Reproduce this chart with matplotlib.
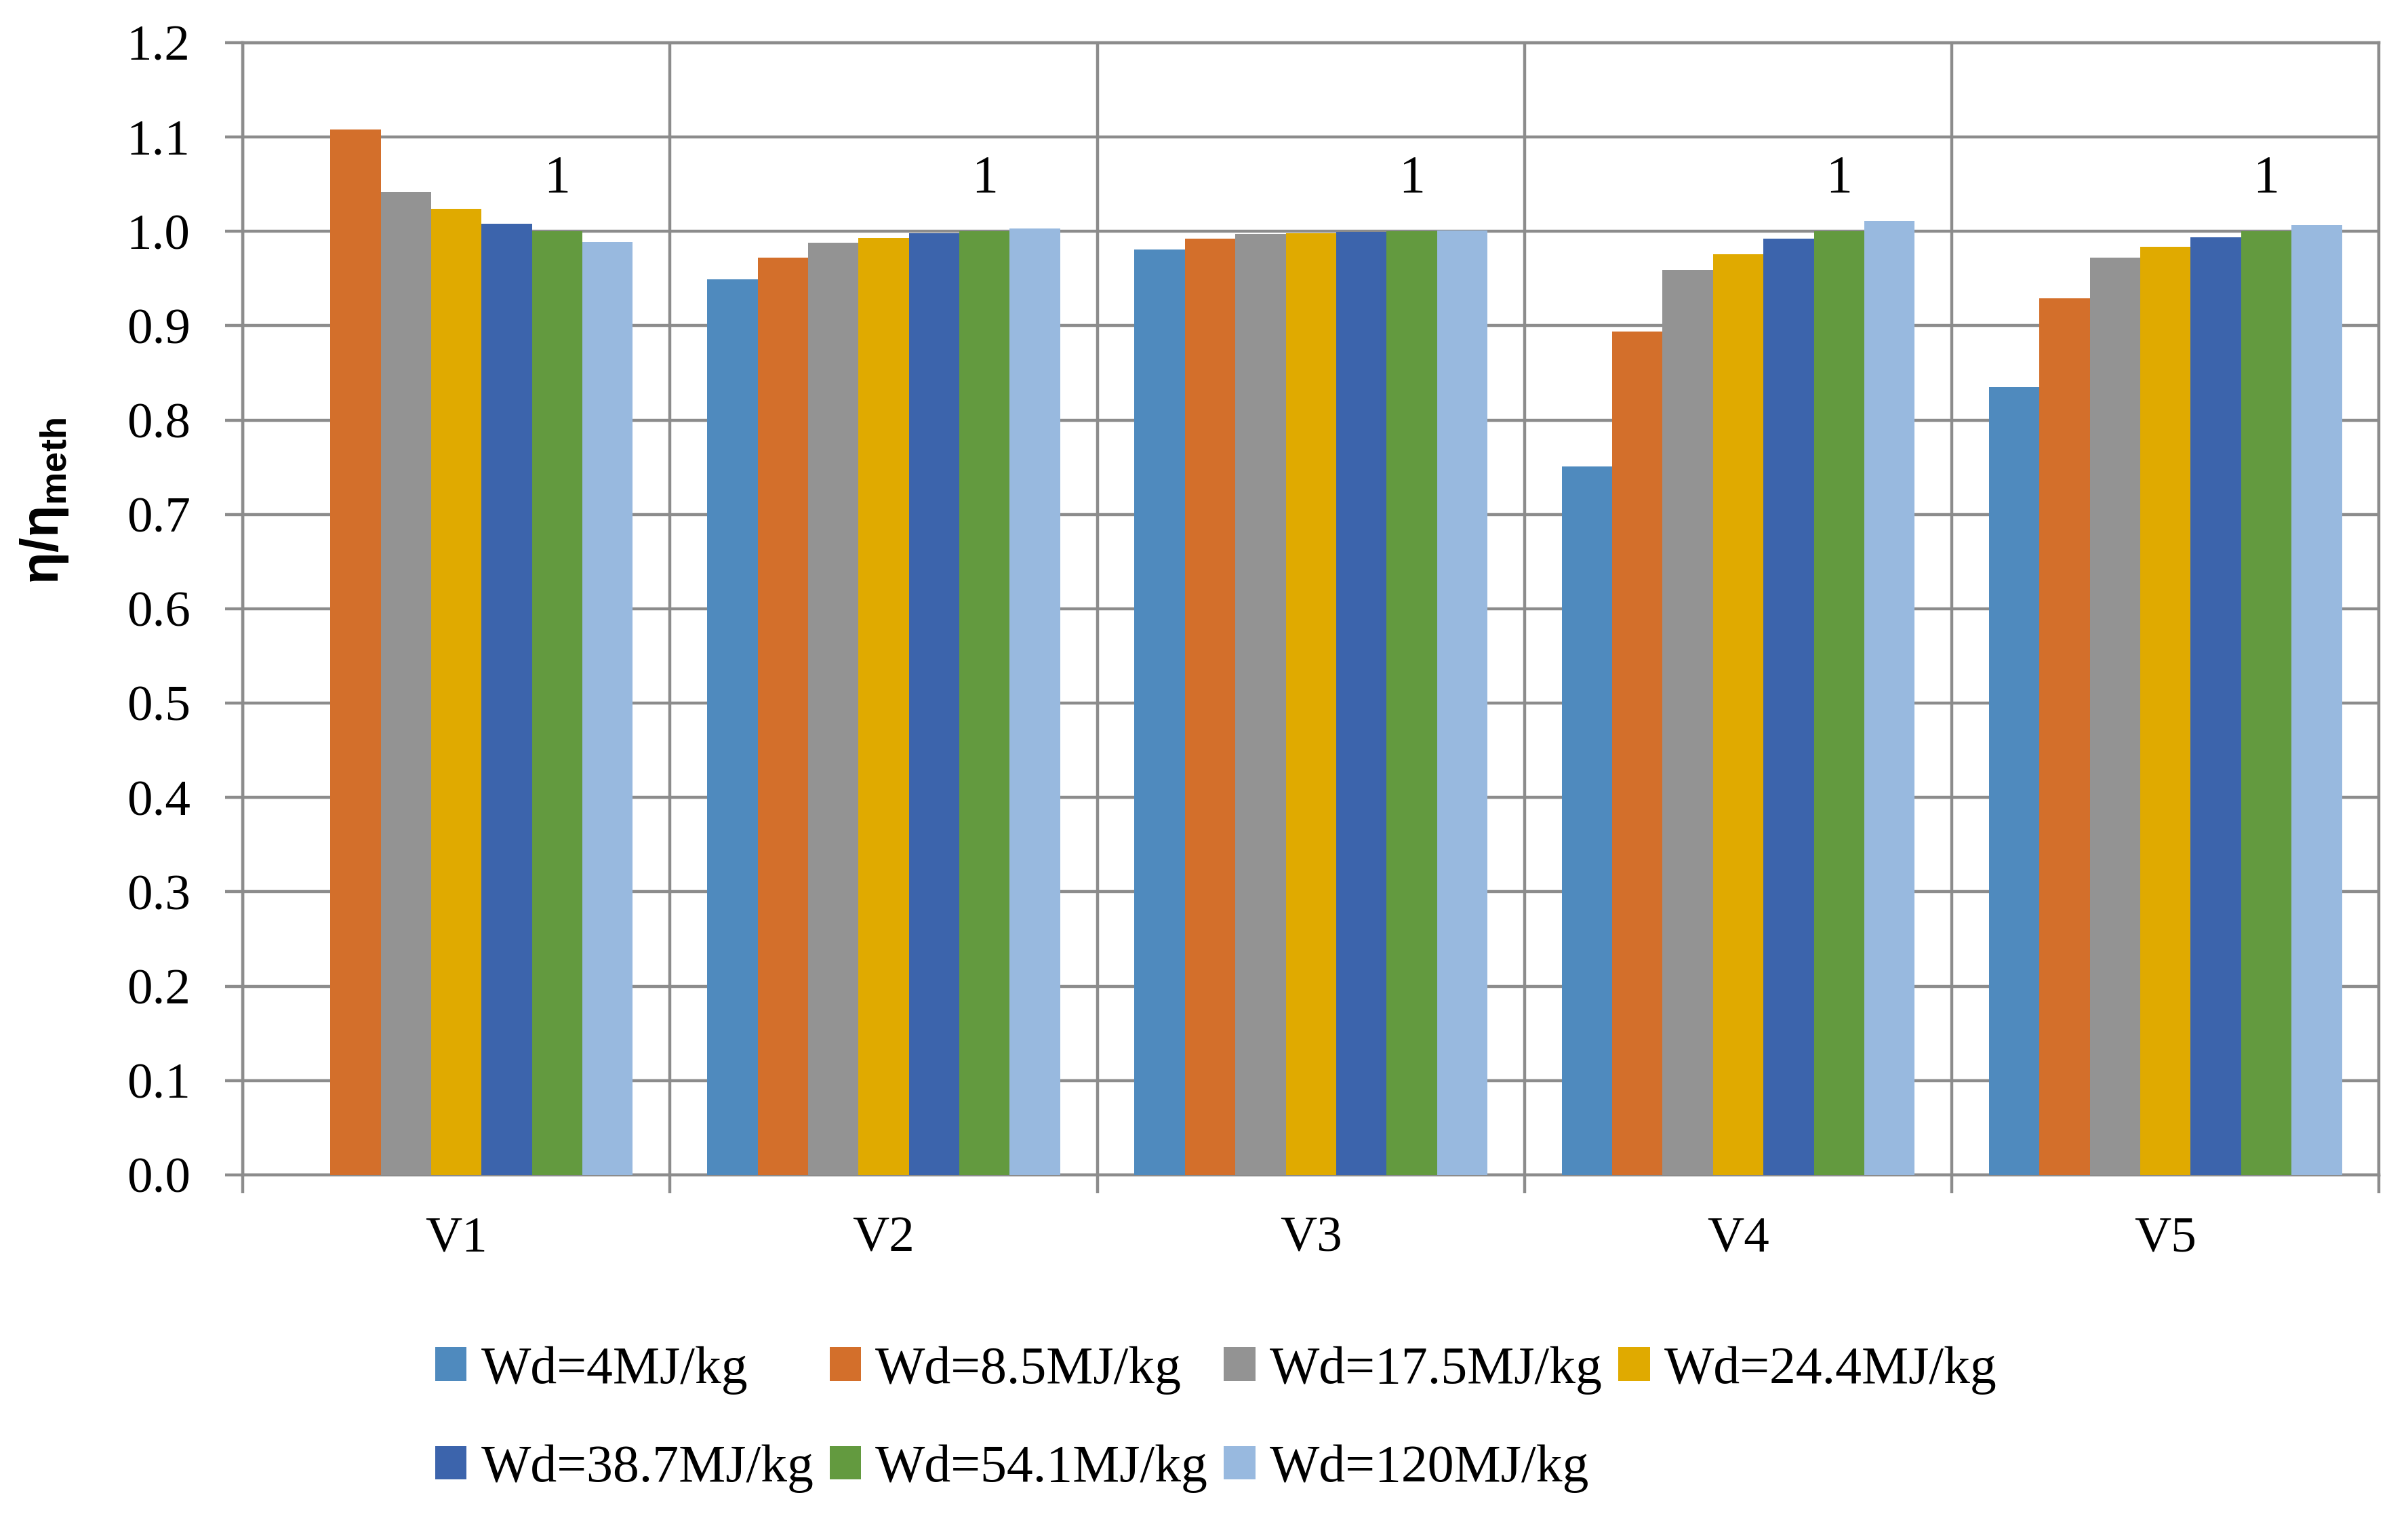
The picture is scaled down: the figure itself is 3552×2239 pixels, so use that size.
import numpy as np
import matplotlib
matplotlib.use("Agg")
import matplotlib.pyplot as plt
from matplotlib.patches import Patch

categories = ["V1", "V2", "V3", "V4", "V5"]
series_labels = ["Wd=4MJ/kg", "Wd=8.5MJ/kg", "Wd=17.5MJ/kg", "Wd=24.4MJ/kg",
                 "Wd=38.7MJ/kg", "Wd=54.1MJ/kg", "Wd=120MJ/kg"]
wd_4 = [np.nan, 0.949, 0.981, 0.751, 0.835]
wd_8_5 = [1.108, 0.972, 0.992, 0.894, 0.929]
wd_17_5 = [1.042, 0.988, 0.997, 0.959, 0.972]
wd_24_4 = [1.024, 0.993, 0.998, 0.976, 0.984]
wd_38_7 = [1.008, 0.998, 0.9993, 0.992, 0.994]
wd_54_1 = [1.000, 1.000, 1.000, 1.000, 1.000]
wd_120 = [0.989, 1.003, 1.001, 1.011, 1.007]
label_series_index = 5
label_text = "1"
yticks = [0.0, 0.1, 0.2, 0.3, 0.4, 0.5, 0.6, 0.7, 0.8, 0.9, 1.0, 1.1, 1.2]

series_values = [wd_4, wd_8_5, wd_17_5, wd_24_4, wd_38_7, wd_54_1, wd_120]
colors = ["#4F8ABE", "#D36F2B", "#939393", "#E0AA00", "#3C64AC", "#639A3F", "#98B9DF"]
grid_color = "#8C8C8C"
lw = 1.6

plt.rcParams["font.family"] = ["Liberation Serif", "DejaVu Serif"]
plt.rcParams["mathtext.fontset"] = "custom"
plt.rcParams["mathtext.bf"] = "Liberation Sans:bold"
plt.rcParams["mathtext.rm"] = "Liberation Sans"

dpi = 200
fig = plt.figure(figsize=(3552 / dpi, 2239 / dpi), dpi=dpi)
ax = fig.add_axes([0.1008, 0.226, 0.988 - 0.1008, 0.9719 - 0.226])

x = np.arange(1, len(categories) + 1)
w = 0.118
for i, (vals, col, lab) in enumerate(zip(series_values, colors, series_labels)):
    xs = x + (i - 3) * w
    ax.bar(xs, vals, width=w, color=col, label=lab, zorder=3, linewidth=0)
    if i == label_series_index:
        for xi, v in zip(xs, vals):
            ax.annotate(label_text, (xi, v), xytext=(0, 21), textcoords="offset points",
                        ha="center", va="baseline", fontsize=28, zorder=4)

ax.set_xlim(0.5, len(categories) + 0.5)
ax.set_ylim(0, 1.2)
ax.set_yticks(yticks)
ax.set_yticklabels([f"{t:.1f}" for t in yticks])
ax.set_xticks(x)
ax.set_xticklabels(categories)
ax.set_xticks(np.arange(0.5, len(categories) + 1, 1.0), minor=True)

ax.tick_params(axis="y", which="major", length=9.4, width=lw, color=grid_color,
               labelsize=27, pad=18.5, direction="out")
ax.tick_params(axis="x", which="major", length=0, labelsize=27, pad=22)
ax.tick_params(axis="x", which="minor", length=9.7, width=lw, color=grid_color, direction="out")

ax.grid(axis="y", which="major", color=grid_color, linewidth=lw, zorder=0)
ax.grid(axis="x", which="minor", color=grid_color, linewidth=lw, zorder=0)
ax.set_axisbelow(True)
for s in ax.spines.values():
    s.set_color(grid_color)
    s.set_linewidth(lw)
    s.set_zorder(0.5)

fig.text(0.0184, 0.670, "η/η$_\\mathbf{meth}$", rotation=90, ha="center", va="center",
         fontsize=28, fontweight="bold", family=["Liberation Sans", "DejaVu Sans"])

# row-major legend order (matplotlib fills columns first)
order = [0, 4, 1, 5, 2, 6, 3]
handles = [Patch(facecolor=colors[k], edgecolor="none") for k in order]
labels = [series_labels[k] for k in order]
leg = fig.legend(handles, labels, loc="center", bbox_to_anchor=(0.505, 0.065),
                 ncol=4, frameon=False, fontsize=28, handlelength=0.6, handleheight=0.6,
                 handletextpad=0.27, columnspacing=0.3, labelspacing=0.95, borderpad=0)

fig.savefig("out.png", dpi=dpi)
